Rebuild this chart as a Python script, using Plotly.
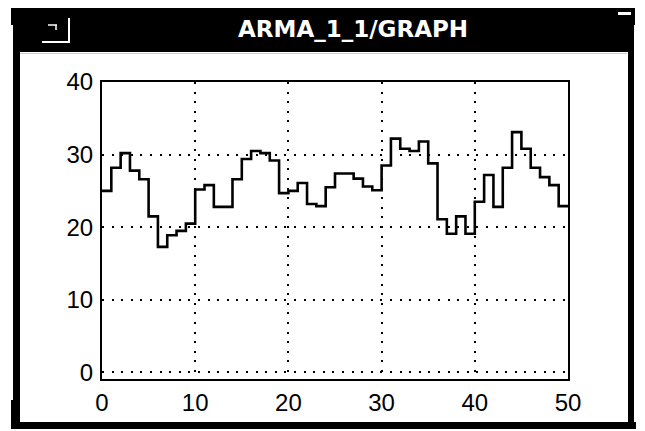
import plotly.graph_objects as go

# ---- data ----
steps = list(range(0, 51))
values = [25.0, 28.2, 30.2, 27.8, 26.6, 21.5, 17.3, 18.9, 19.5, 20.5,
          25.2, 25.8, 22.8, 22.8, 26.6, 29.4, 30.5, 30.2, 29.2, 24.7,
          25.0, 26.1, 23.2, 22.9, 25.5, 27.4, 27.4, 26.7, 25.6, 25.1,
          28.5, 32.2, 30.8, 30.5, 31.8, 28.8, 21.1, 19.1, 21.5, 19.1,
          23.5, 27.2, 22.8, 28.2, 33.1, 30.8, 28.2, 26.9, 25.8, 22.9]
values_plot = values + [values[-1]]
x_ticks = [0, 10, 20, 30, 40, 50]
y_ticks = [0, 10, 20, 30, 40]
title_text = "ARMA_1_1/GRAPH"

OFF = 8  # page body margin offset
W, H = 645, 431
ML, MR, MT, MB = 102 - OFF, 77 + OFF, 82 - OFF, 52 + OFF
PW, PH = W - ML - MR, H - MT - MB


def px(x):
    return (x - OFF - ML) / PW


def py(y):
    return (H - MB - (y - OFF)) / PH


def rect(x0, y0, x1, y1, color="black"):
    return dict(type="rect", xref="paper", yref="paper",
                x0=px(x0), x1=px(x1), y0=py(y1), y1=py(y0),
                fillcolor=color, line=dict(width=0), layer="above")


def seg(x0, y0, x1, y1, color="white", w=2):
    return dict(type="line", xref="paper", yref="paper",
                x0=px(x0), x1=px(x1), y0=py(y0), y1=py(y1),
                line=dict(color=color, width=w), layer="above")


fig = go.Figure()
fig.add_trace(go.Scatter(x=steps, y=values_plot, mode="lines",
                         line=dict(shape="hv", color="black", width=2.6),
                         hoverinfo="skip", showlegend=False))

shapes = [
    rect(13, 8, 634, 52),          # title bar
    rect(11, 5, 33, 25),           # top-left corner piece
    rect(617, 5, 635, 25),         # top-right corner piece
    rect(618, 12, 631, 15, "white"),
    rect(13, 52, 20, 429),         # left border
    rect(11, 400, 20, 429),
    rect(628, 25, 634, 429),       # right border
    rect(13, 422, 636, 429),       # bottom border
    seg(69, 18, 69, 43),           # icon in title bar
    seg(42, 42, 70, 42),
    seg(48, 25, 57, 25, w=1.5),
    seg(56, 25, 56, 30, w=1.5),
    seg(20, 53.5, 627, 53.5, "#cfcfcf", 1),
]

fig.update_layout(
    width=W, height=H,
    margin=dict(l=ML, r=MR, t=MT, b=MB),
    paper_bgcolor="white", plot_bgcolor="white",
    shapes=shapes,
    annotations=[dict(text="<b>" + title_text + "</b>", xref="paper", yref="paper",
                      x=px(353), y=py(29), showarrow=False,
                      font=dict(family="DejaVu Sans", size=23, color="white"),
                      xanchor="center", yanchor="middle")],
    font=dict(family="Liberation Sans", size=24, color="black"),
)
fig.update_xaxes(range=[0, 50], tickvals=x_ticks, ticktext=[str(t) for t in x_ticks],
                 showline=True, linecolor="black", linewidth=2, mirror=True,
                 showgrid=True, gridcolor="black", gridwidth=1.6, griddash="2px,7.6px",
                 zeroline=False, ticks="", ticklabelstandoff=1)
fig.update_yaxes(range=[-0.9, 40], tickvals=y_ticks, ticktext=[str(t) for t in y_ticks],
                 showline=True, linecolor="black", linewidth=2, mirror=True,
                 showgrid=True, gridcolor="black", gridwidth=1.6, griddash="2px,7.6px",
                 zeroline=False, ticks="", ticklabelstandoff=2)

fig.write_html("out.html")
